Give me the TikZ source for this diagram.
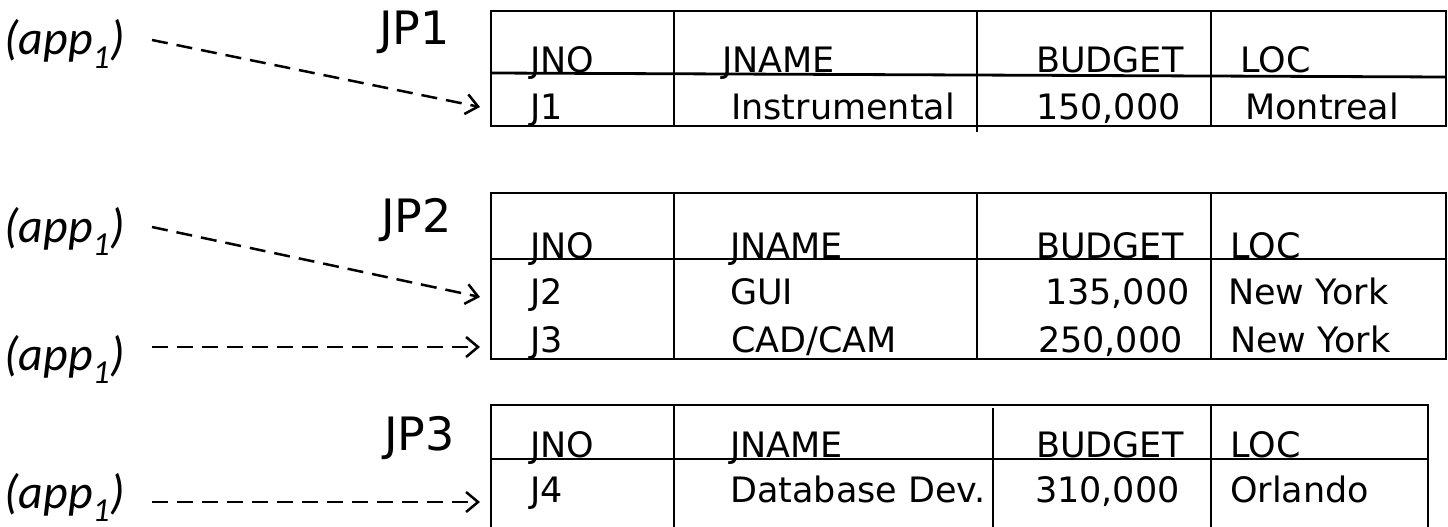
\documentclass[tikz,border=0pt]{standalone}
\usepackage{fontspec}
\setmainfont{DejaVu Sans}
\newfontfamily\labfont{Carlito}
\usetikzlibrary{arrows.meta}
\begin{document}
\begin{tikzpicture}[x=1pt,y=-1pt,
  tline/.style={line width=2.8pt},
  cell/.style={font=\fontsize{35}{40}\selectfont, inner sep=0pt, anchor=base west},
  cellr/.style={cell, anchor=base east},
  jp/.style={font=\fontsize{46}{50}\selectfont, inner sep=0pt, anchor=base east},
  app/.style={font=\labfont\itshape\fontsize{48}{54}\selectfont, inner sep=0pt, anchor=base east},
  darr/.style={line width=2.5pt, dash pattern=on 16pt off 9pt,
    -{Straight Barb[length=12pt,width=20pt,line width=2.5pt]}}]
\useasboundingbox (0,0) rectangle (1448,527);

% ---------- left labels ----------
\node[app] (lab1) at (125,55)  {(app\textsubscript{1})};
\node[app] (lab2) at (125,242) {(app\textsubscript{1})};
\node[app] (lab3) at (125,370) {(app\textsubscript{1})};
\node[app] (lab4) at (125,508) {(app\textsubscript{1})};

\coordinate (s1) at (152,40);  \coordinate (t1) at (480,107);
\coordinate (s2) at (152,227); \coordinate (t2) at (480,297);
\coordinate (s3) at (152,347); \coordinate (t3) at (480,347);
\coordinate (s4) at (152,502); \coordinate (t4) at (480,502);
\draw[darr] (s1) -- (t1);
\draw[darr] (s2) -- (t2);
\draw[darr] (s3) -- (t3);
\draw[darr] (s4) -- (t4);

% ---------- table names ----------
\node[jp] (jp1) at (450,45)  {JP1};
\node[jp] (jp2) at (452,232) {JP2};
\node[jp] (jp3) at (455,450) {JP3};

% ---------- table JP1 ----------
\draw[tline] (491,11) rectangle (1446,126);
\draw[tline] (491,73) -- (1446,77);
\draw[tline] (674,11) -- (674,126);
\draw[tline] (977,11) -- (977,132);
\draw[tline] (1211,11) -- (1211,126);
\node[cell] (h1a) at (530,72)  {JNO};
\node[cell] (h1b) at (722,72)  {JNAME};
\node[cell] (h1c) at (1036,72) {BUDGET};
\node[cell] (h1d) at (1240,72) {LOC};
\node[cell]  (r1a) at (530,119)  {J1};
\node[cell]  (r1b) at (731,119)  {Instrumental};
\node[cellr] (r1c) at (1181,119) {150,000};
\node[cell]  (r1d) at (1245,119) {Montreal};

% ---------- table JP2 ----------
\draw[tline] (491,193) rectangle (1446,359);
\draw[tline] (491,259) -- (1446,259);
\draw[tline] (674,193) -- (674,359);
\draw[tline] (977,193) -- (977,359);
\draw[tline] (1211,193) -- (1211,359);
\node[cell] (h2a) at (530,258)  {JNO};
\node[cell] (h2b) at (730,258)  {JNAME};
\node[cell] (h2c) at (1036,258) {BUDGET};
\node[cell] (h2d) at (1230,258) {LOC};
\node[cell]  (r2a) at (530,304)  {J2};
\node[cell]  (r2b) at (730,304)  {GUI};
\node[cellr] (r2c) at (1190,304) {135,000};
\node[cell]  (r2d) at (1228,304) {New York};
\node[cell]  (r3a) at (530,352)  {J3};
\node[cell]  (r3b) at (731,352)  {CAD/CAM};
\node[cellr] (r3c) at (1183,352) {250,000};
\node[cell]  (r3d) at (1230,352) {New York};

% ---------- table JP3 ----------
\draw[tline] (491,405) rectangle (1428,545);
\draw[tline] (491,459) -- (1428,459);
\draw[tline] (674,405) -- (674,545);
\draw[tline] (993,408) -- (993,545);
\draw[tline] (1211,405) -- (1211,545);
\node[cell] (h3a) at (530,457)  {JNO};
\node[cell] (h3b) at (730,457)  {JNAME};
\node[cell] (h3c) at (1036,457) {BUDGET};
\node[cell] (h3d) at (1230,457) {LOC};
\node[cell]  (r4a) at (530,502)  {J4};
\node[cell]  (r4b) at (730,502)  {Database Dev.};
\node[cellr] (r4c) at (1180,502) {310,000};
\node[cell]  (r4d) at (1230,502) {Orlando};
\end{tikzpicture}
\end{document}
